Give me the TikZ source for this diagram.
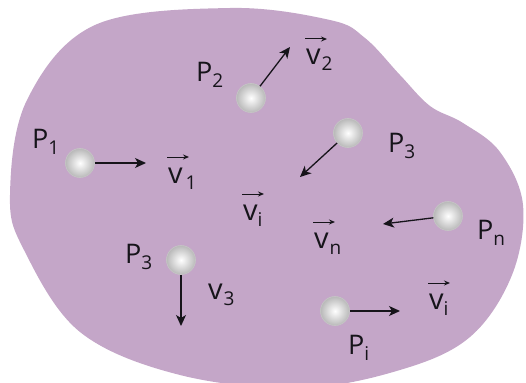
\documentclass[tikz,border=0pt]{standalone}
\usepackage{fontspec}
\setmainfont{Open Sans}
\usetikzlibrary{arrows.meta}
\definecolor{blob}{RGB}{196,166,200}
\definecolor{ink}{RGB}{22,20,26}
\newcommand{\subx}[1]{\raisebox{-6pt}{\fontsize{19}{19}\selectfont #1}}
\begin{document}
\begin{tikzpicture}[x=1pt,y=-1pt,
  ball/.style={circle, minimum size=29pt, inner sep=0pt, shading=radial,
    inner color=white, outer color=gray!55, draw=gray!45, line width=0.6pt},
  plab/.style={anchor=base west, inner sep=0pt, text=ink, font=\fontsize{27}{27}\selectfont},
  vlab/.style={anchor=base west, inner sep=0pt, text=ink, font=\fontsize{29}{29}\selectfont},
  vecarr/.style={draw=ink, line width=1pt, -{Stealth[length=6pt,width=5pt]}},
  velarr/.style={draw=ink, line width=1.3pt, -{Stealth[length=11pt,width=10pt,inset=3pt]}}]
\useasboundingbox (0,0) rectangle (526,382);
\clip (0,0) rectangle (526,382);
% body
\fill[blob] plot[smooth cycle, tension=0.6] coordinates {
  (10,195) (27,100) (95,25) (230,8) (330,20) (365,38) (400,75) (430,106)
  (463,123) (500,152) (523,205) (512,275) (470,337) (400,370) (300,388)
  (180,375) (80,332) (24,250)};
% balls
\node[ball] (b1) at (80,163) {};
\node[ball] (b2) at (251,98) {};
\node[ball] (b3) at (348,133) {};
\node[ball] (bn) at (448,216) {};
\node[ball] (b4) at (181,260) {};
\node[ball] (bi) at (335,311) {};
% arrow ends
\coordinate (a1) at (146,163);
\coordinate (a2) at (290,47);
\coordinate (a3) at (300,177);
\coordinate (an) at (383,224);
\coordinate (a4) at (181,326);
\coordinate (ai) at (400,311);
\draw[velarr] (b1) -- (a1);
\draw[velarr] (b2) -- (a2);
\draw[velarr] (b3) -- (a3);
\draw[velarr] (bn) -- (an);
\draw[velarr] (b4) -- (a4);
\draw[velarr] (bi) -- (ai);
% particle labels
\node[plab] (p1) at (32,148) {P\subx{1}};
\node[plab] (p2) at (196,82) {P\subx{2}};
\node[plab] (p3) at (388,152) {P\subx{3}};
\node[plab] (pn) at (477,239) {P\subx{n}};
\node[plab] (p4) at (125,263) {P\subx{3}};
\node[plab] (pi) at (348,354) {P\subx{i}};
% velocity labels
\node[vlab] (v1) at (168,183) {v\kern3pt\subx{1}};
\node[vlab] (v2) at (306,65) {v\kern1pt\subx{2}};
\node[vlab] (vc) at (243,220) {v\subx{i}};
\node[vlab] (vn) at (314,248) {v\kern1pt\subx{n}};
\node[vlab] (v3) at (208,299) {v\kern1pt\subx{3}};
\node[vlab] (vi) at (429,309) {v\subx{i}};
\foreach \v in {v1,v2,vc,vn,vi}
  \draw[vecarr] ([shift={(-1,-26)}]\v.base west) -- ++(22,0);
\end{tikzpicture}
\end{document}
